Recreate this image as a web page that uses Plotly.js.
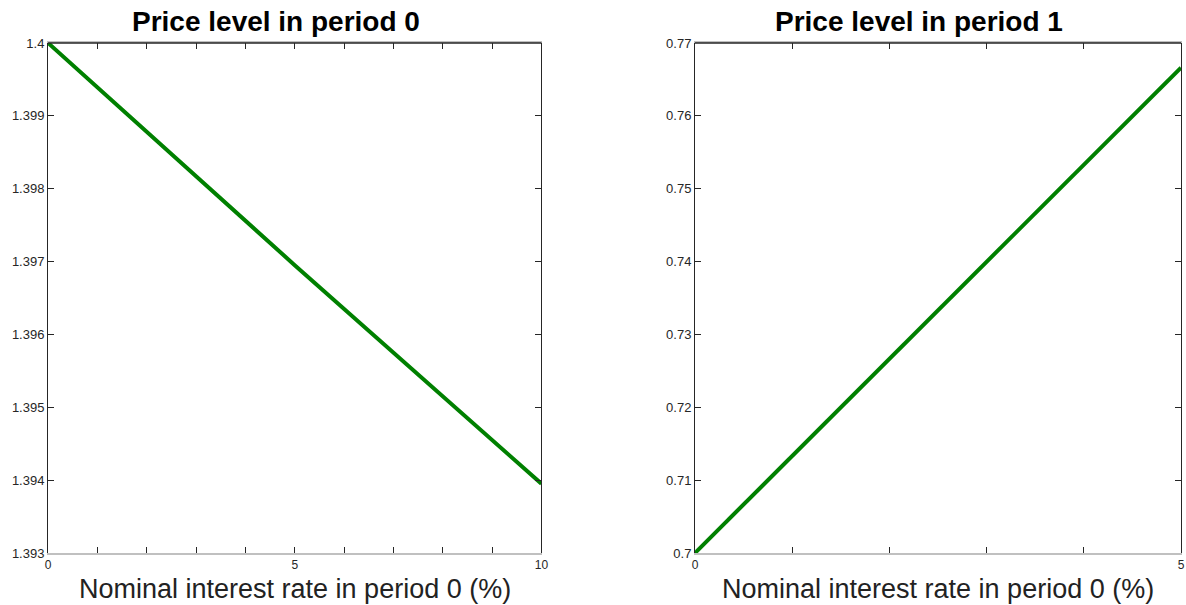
<!DOCTYPE html>
<html><head><meta charset="utf-8">
<script src="https://cdn.plot.ly/plotly-3.0.1.min.js"></script>
<style>html,body{margin:0;padding:0;background:#fff}#chart{width:1186px;height:605px}</style>
</head><body><div id="chart"></div>
<script>
// Data
const rate0 = [0, 5, 10];                     // nominal interest rate in period 0 (%), left panel
const price0 = [1.4, 1.39695, 1.39395];       // price level in period 0
const rate1 = [0, 2.5, 5];                    // nominal interest rate in period 0 (%), right panel
const price1 = [0.7, 0.7333, 0.7666];         // price level in period 1

const titles = ["Price level in period 0", "Price level in period 1"];
const xTitle = "Nominal interest rate in period 0 (%)";
const xTicks0 = [0,1,2,3,4,5,6,7,8,9,10];
const xTickText0 = ["0","","","","","5","","","","","10"];
const xTicks1 = [0,1,2,3,4,5];
const xTickText1 = ["0","","","","","5"];
const yTicks0 = [1.393,1.394,1.395,1.396,1.397,1.398,1.399,1.4];
const yTickText0 = ["1.393","1.394","1.395","1.396","1.397","1.398","1.399","1.4"];
const yTicks1 = [0.7,0.71,0.72,0.73,0.74,0.75,0.76,0.77];
const yTickText1 = ["0.7","0.71","0.72","0.73","0.74","0.75","0.76","0.77"];

const FONT = '"Liberation Sans", Arial, sans-serif';
const TFONT = '"Liberation Sans", Arial, sans-serif';
const dark = '#262626';

const traces = [
  {x: rate0, y: price0, xaxis: 'x', yaxis: 'y', mode: 'lines', line: {color: '#008000', width: 4}, hoverinfo: 'x+y'},
  {x: rate1, y: price1, xaxis: 'x2', yaxis: 'y2', mode: 'lines', line: {color: '#008000', width: 4}, hoverinfo: 'x+y'}
];

function xa(domain, range, tv, tt, anchor) {
  return {domain: domain, range: range, anchor: anchor, tickmode: 'array', tickvals: tv, ticktext: tt,
    ticks: 'inside', ticklen: 6, tickwidth: 1, tickcolor: dark, showline: true, linecolor: '#c0c0c0', linewidth: 2,
    mirror: 'ticks', showgrid: false, zeroline: false, fixedrange: true,
    tickfont: {family: FONT, size: 12, color: dark}};
}
function ya(domain, range, tv, tt, anchor) {
  return {domain: domain, range: range, anchor: anchor, tickmode: 'array', tickvals: tv, ticktext: tt,
    ticks: 'inside', ticklen: 6, tickwidth: 1, tickcolor: dark, showline: true, linecolor: dark, linewidth: 1,
    mirror: 'ticks', showgrid: false, zeroline: false, fixedrange: true,
    tickfont: {family: FONT, size: 13, color: dark}};
}

const yd = [0.086, 0.929];
const layout = {
  width: 1186, height: 605,
  margin: {l: 0, r: 0, t: 0, b: 0},
  paper_bgcolor: '#fff', plot_bgcolor: '#fff',
  showlegend: false,
  xaxis: xa([0.0405, 0.4565], [0, 10], xTicks0, xTickText0, 'y'),
  yaxis: ya(yd, [1.393, 1.4], yTicks0, yTickText0, 'x'),
  xaxis2: xa([0.586, 0.9958], [0, 5], xTicks1, xTickText1, 'y2'),
  yaxis2: ya(yd, [0.7, 0.77], yTicks1, yTickText1, 'x2'),
  shapes: [
    {type: 'line', xref: 'x domain', yref: 'y domain', x0: 0, x1: 1, y0: 1, y1: 1, line: {color: dark, width: 1.5}, layer: 'above'},
    {type: 'line', xref: 'x2 domain', yref: 'y2 domain', x0: 0, x1: 1, y0: 1, y1: 1, line: {color: dark, width: 1.5}, layer: 'above'}
  ],
  annotations: [
    {text: '<b>' + titles[0] + '</b>', xref: 'x domain', yref: 'paper', x: 0.5, y: 1, yanchor: 'top', yshift: -4, xshift: -19, showarrow: false,
      font: {family: TFONT, size: 28, color: '#000'}},
    {text: '<b>' + titles[1] + '</b>', xref: 'x2 domain', yref: 'paper', x: 0.5, y: 1, yanchor: 'top', yshift: -4, xshift: -19, showarrow: false,
      font: {family: TFONT, size: 28, color: '#000'}},
    {text: xTitle, xref: 'x domain', yref: 'paper', x: 0.5, y: 0, yanchor: 'bottom', yshift: 0, showarrow: false, borderpad: 0,
      font: {family: FONT, size: 27, color: '#222'}},
    {text: xTitle, xref: 'x2 domain', yref: 'paper', x: 0.5, y: 0, yanchor: 'bottom', yshift: 0, showarrow: false, borderpad: 0,
      font: {family: FONT, size: 27, color: '#222'}}
  ]
};
Plotly.newPlot('chart', traces, layout, {displayModeBar: false, staticPlot: true});
</script></body></html>
